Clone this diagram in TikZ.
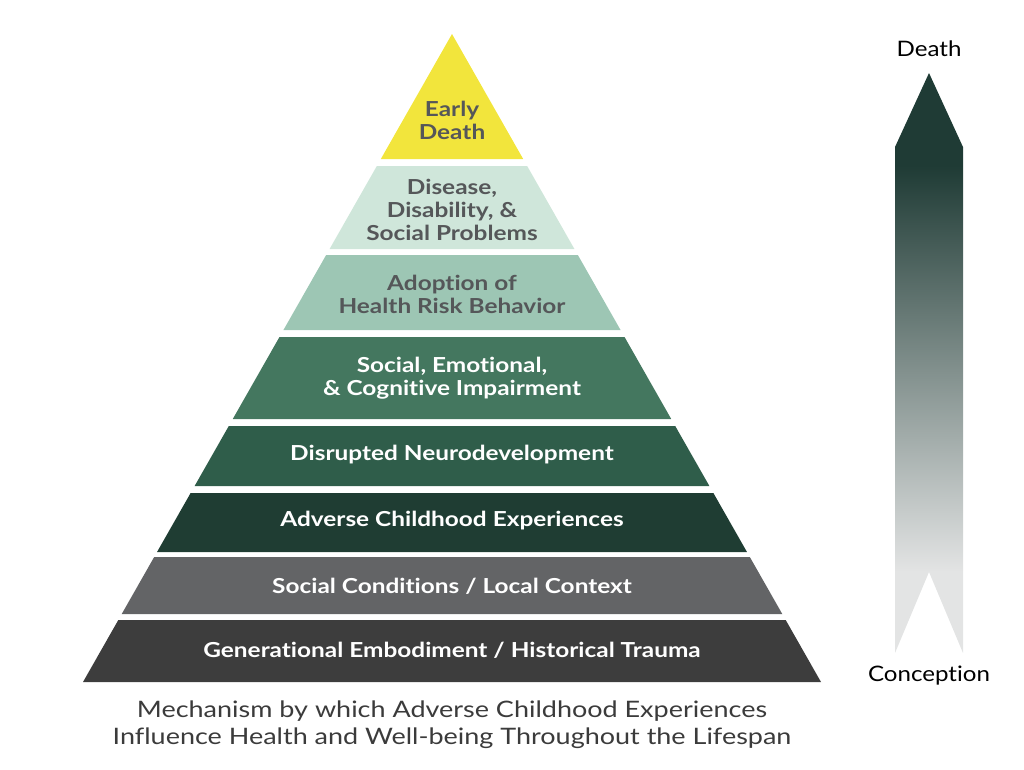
\documentclass[tikz,border=0pt]{standalone}
\usepackage{fontspec}
\setmainfont{Lato}[Ligatures=CommonOff]
\newfontfamily\bandfont{Lato}[FakeStretch=1.18,Ligatures=CommonOff]
\newfontfamily\capfont{Lato}[FakeStretch=1.19,Ligatures=CommonOff]
\newfontfamily\endfont{Lato}[FakeStretch=1.13,Ligatures=CommonOff]
\definecolor{cyel}{HTML}{F2E53C}
\definecolor{cmint}{HTML}{CFE6DA}
\definecolor{csage}{HTML}{9DC6B4}
\definecolor{cgreen}{HTML}{44775F}
\definecolor{cgreen2}{HTML}{2F5D4A}
\definecolor{cdark}{HTML}{1F3D33}
\definecolor{cgray}{HTML}{636466}
\definecolor{cdgray}{HTML}{3D3D3D}
\definecolor{ctxt}{HTML}{555759}
\definecolor{ccap}{HTML}{3B3B3B}
\definecolor{arrdark}{HTML}{1F3B35}
\definecolor{arrlight}{HTML}{E3E4E4}
\pgfdeclareverticalshading{arrowshade}{100bp}{color(0bp)=(arrlight); color(32bp)=(arrlight); color(67bp)=(arrdark); color(100bp)=(arrdark)}
\tikzset{
  bandtext/.style={inner sep=0pt, align=center, font=\bandfont\bfseries\fontsize{15.5}{17.25}\selectfont},
  darklbl/.style={bandtext, text=ctxt},
  lightlbl/.style={bandtext, text=white},
  endlbl/.style={inner sep=0pt, font=\endfont\fontsize{16}{18}\selectfont, text=black},
  caption/.style={inner sep=0pt, align=center, font=\capfont\fontsize{17}{20.25}\selectfont, text=ccap}
}
\begin{document}
\begin{tikzpicture}[x=0.75pt,y=-0.75pt]
\useasboundingbox (0,0) rectangle (1024,769);
% pyramid bands
\foreach \t/\b/\c in {34/159/cyel,166/249/cmint,255/330/csage,337/419/cgreen,426/486/cgreen2,493/552/cdark,557/614/cgray,620/682/cdgray}{
  \pgfmathsetmacro\lt{452-(\t-34)*0.56944}
  \pgfmathsetmacro\rt{452+(\t-34)*0.56944}
  \pgfmathsetmacro\lb{452-(\b-34)*0.56944}
  \pgfmathsetmacro\rb{452+(\b-34)*0.56944}
  \fill[\c] (\lt,\t) -- (\rt,\t) -- (\rb,\b) -- (\lb,\b) -- cycle;
}
% band labels
\node[darklbl] (t1) at (452,120) {Early\\Death};
\node[darklbl] (t2) at (452,210) {Disease,\\Disability, \&\\Social Problems};
\node[darklbl] (t3) at (452,294) {Adoption of\\Health Risk Behavior};
\node[lightlbl] (t4) at (452,378) {Social, Emotional,\\\& Cognitive Impairment};
\node[lightlbl] (t5) at (452,455) {Disrupted Neurodevelopment};
\node[lightlbl] (t6) at (452,521) {Adverse Childhood Experiences};
\node[lightlbl] (t7) at (452,586) {Social Conditions / Local Context};
\node[lightlbl] (t8) at (452,650) {Generational Embodiment / Historical Trauma};
% caption
\node[caption] (cap) at (452,725) {Mechanism by which Adverse Childhood Experiences\\Influence Health and Well-being Throughout the Lifespan};
% lifespan arrow
\shade[shading=arrowshade] (929,73) -- (963,147) -- (963,653) -- (929,572) -- (895,653) -- (895,147) -- cycle;
\node[endlbl] (death) at (929,49) {Death};
\node[endlbl] (conc) at (929,676) {Conception};
\end{tikzpicture}
\end{document}
